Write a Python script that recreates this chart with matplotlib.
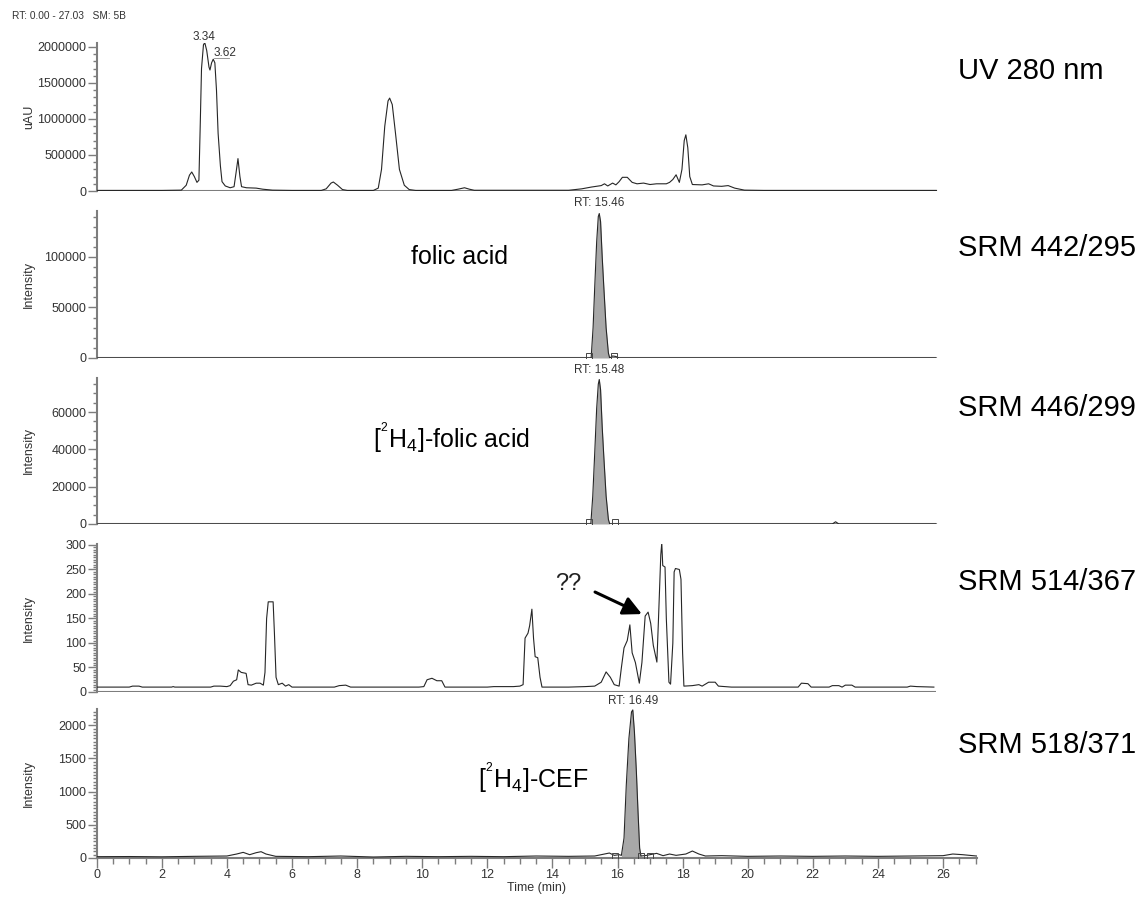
import numpy as np
import matplotlib
matplotlib.use("Agg")
import matplotlib.pyplot as plt
from matplotlib.ticker import MultipleLocator, FuncFormatter

plt.rcParams['font.family'] = ['Liberation Sans', 'DejaVu Sans']
plt.rcParams['mathtext.default'] = 'regular'

# ---- data (time in min, intensity) ----
uv_t = [0, 2.0, 2.6, 2.75, 2.85, 2.92, 3.0, 3.08, 3.14, 3.18, 3.22, 3.28, 3.32, 3.38, 3.45, 3.48,
        3.53, 3.58, 3.63, 3.68, 3.73, 3.8, 3.85, 3.95, 4.1, 4.22, 4.28, 4.34, 4.4, 4.45, 4.6, 4.9,
        5.1, 5.4, 6.0, 6.9, 7.05, 7.2, 7.27, 7.4, 7.55, 7.7, 8.5, 8.65, 8.75, 8.85, 8.95, 9.0,
        9.08, 9.18, 9.3, 9.45, 9.6, 9.8, 10.9, 11.1, 11.3, 11.45, 11.6, 14.5, 14.9, 15.2, 15.5,
        15.6, 15.7, 15.85, 15.95, 16.05, 16.15, 16.3, 16.45, 16.6, 16.8, 17.0, 17.2, 17.5, 17.6,
        17.7, 17.8, 17.9, 17.98, 18.05, 18.1, 18.16, 18.22, 18.3, 18.6, 18.8, 18.95, 19.2, 19.4,
        19.6, 19.9, 20.5, 25.8]
uv_v = [8000, 8000, 12000, 80000, 220000, 264000, 200000, 120000, 150000, 900000, 1700000,
        2030000, 2060000, 1950000, 1720000, 1680000, 1780000, 1830000, 1780000, 1400000, 800000,
        350000, 130000, 70000, 45000, 60000, 250000, 450000, 200000, 60000, 45000, 40000, 25000,
        12000, 8000, 8000, 30000, 110000, 125000, 80000, 20000, 8000, 8000, 40000, 300000, 900000,
        1250000, 1290000, 1200000, 800000, 300000, 80000, 20000, 8000, 8000, 25000, 45000, 25000,
        10000, 10000, 30000, 55000, 75000, 100000, 70000, 110000, 85000, 130000, 190000, 190000,
        120000, 100000, 110000, 90000, 100000, 100000, 120000, 160000, 225000, 120000, 300000,
        700000, 780000, 600000, 200000, 90000, 85000, 100000, 70000, 65000, 75000, 40000, 12000,
        8000, 8000]

fa_t = [0, 15.0, 15.19, 15.25, 15.3, 15.36, 15.41, 15.44, 15.48, 15.53, 15.58, 15.65, 15.72, 15.76,
        15.85, 15.95, 16.05, 25.8]
fa_v = [0, 0, 0, 30000, 70000, 115000, 140000, 143000, 135000, 100000, 70000, 30000, 5000, 0,
        2000, 1500, 0, 0]
fa_window = (15.19, 15.76)
fa_marks = [15.12, 15.9]

d4fa_t = [0, 15.0, 15.18, 15.24, 15.3, 15.36, 15.41, 15.44, 15.48, 15.53, 15.58, 15.65, 15.72,
          15.76, 22.6, 22.7, 22.8, 25.8]
d4fa_v = [0, 0, 0, 15000, 38000, 62000, 75000, 77500, 72000, 52000, 36000, 15000, 2500, 0,
          0, 1200, 0, 0]
d4fa_window = (15.18, 15.76)
d4fa_marks = [15.12, 15.92]

s514_t = [0, 1.0, 1.1, 1.3, 1.4, 2.3, 2.35, 2.4, 3.5, 3.6, 3.8, 4.0, 4.1, 4.2, 4.3, 4.35, 4.44,
          4.59, 4.65, 4.75, 4.9, 5.02, 5.12, 5.17, 5.22, 5.27, 5.42, 5.46, 5.51, 5.58, 5.7, 5.8,
          5.9, 6.0, 7.3, 7.45, 7.65, 7.8, 9.9, 10.05, 10.15, 10.3, 10.45, 10.6, 10.7, 12.0, 12.2,
          12.8, 13.0, 13.1, 13.16, 13.25, 13.3, 13.37, 13.42, 13.47, 13.55, 13.62, 13.68, 14.5,
          15.0, 15.3, 15.5, 15.65, 15.78, 15.9, 16.05, 16.12, 16.2, 16.3, 16.38, 16.45, 16.55,
          16.67, 16.75, 16.85, 16.94, 17.02, 17.1, 17.21, 17.26, 17.33, 17.36, 17.39, 17.46, 17.5,
          17.58, 17.63, 17.7, 17.74, 17.78, 17.9, 17.95, 18.0, 18.04, 18.3, 18.5, 18.6, 18.8,
          19.0, 19.1, 19.5, 21.55, 21.65, 21.85, 21.95, 22.5, 22.6, 22.8, 22.9, 23.0, 23.2, 23.3,
          24.9, 25.0, 25.2, 25.72]
s514_v = [10, 10, 12, 12, 10, 10, 11, 10, 10, 12, 12, 11, 13, 22, 25, 45, 40, 38, 15, 14, 18, 18,
          14, 40, 150, 184, 184, 120, 30, 15, 18, 12, 15, 10, 10, 13, 14, 10, 10, 11, 25, 28, 23,
          23, 10, 10, 11, 11, 12, 15, 110, 120, 135, 169, 110, 72, 70, 30, 10, 10, 11, 12, 20, 41,
          30, 15, 12, 50, 90, 105, 137, 80, 60, 18, 60, 155, 163, 140, 95, 61, 150, 280, 304, 258,
          255, 150, 20, 16, 100, 245, 252, 250, 230, 80, 12, 13, 15, 12, 20, 20, 12, 10, 10, 18,
          17, 10, 10, 13, 13, 10, 14, 14, 10, 10, 12, 11, 10]

cef_t = [0, 1.0, 2.0, 3.0, 4.0, 4.3, 4.5, 4.7, 4.9, 5.05, 5.2, 5.5, 6.5, 7.5, 8.5, 9.5, 10.5, 11.5,
         12.5, 13.5, 14.5, 15.3, 15.6, 15.75, 15.9, 16.05, 16.12, 16.2, 16.27, 16.35, 16.43, 16.47,
         16.52, 16.58, 16.63, 16.68, 16.72, 16.9, 17.2, 17.4, 17.6, 17.8, 18.1, 18.3, 18.5, 18.7,
         19.2, 20.0, 21.0, 22.0, 23.0, 24.0, 25.0, 26.0, 26.3, 26.6, 27.03]
cef_v = [20, 22, 18, 25, 30, 60, 85, 50, 80, 95, 60, 25, 20, 30, 15, 25, 20, 25, 20, 30, 25, 30,
         60, 75, 40, 50, 40, 300, 1100, 1800, 2200, 2230, 1900, 1300, 700, 150, 30, 40, 70, 35,
         60, 40, 60, 105, 60, 30, 35, 25, 30, 25, 30, 25, 30, 35, 60, 50, 30]
cef_window = (16.12, 16.72)
cef_marks = [15.93, 16.72, 17.0]

panel_names = ['UV 280 nm', 'SRM 442/295', 'SRM 446/299', 'SRM 514/367', 'SRM 518/371']
panel_ylabels = ['uAU', 'Intensity', 'Intensity', 'Intensity', 'Intensity']
panel_ymax = [2055000, 145500, 78300, 302, 2244]
panel_major = [500000, 50000, 20000, 50, 500]
panel_minor = [100000, 10000, 5000, 5, 50]

# pixel layout of the original (1140 x 899)
W, H = 1140, 899
x0_px, px_per_min = 96.7, 32.55
t_end = 27.03
panel_px = [(43, 191), (211, 358), (378, 524), (544, 692), (709, 858)]
label_y_px = [71, 248, 408, 582, 745]

line_c = '#262626'
spine_c = '#7d7d7d'
fill_c = '#a8a8a8'

fig = plt.figure(figsize=(W / 100, H / 100), dpi=100)

axes = []
for i, (top, bot) in enumerate(panel_px):
    ax = fig.add_axes([x0_px / W, 1 - bot / H, t_end * px_per_min / W, (bot - top) / H])
    ax.set_xlim(0, t_end)
    ax.set_ylim(0, panel_ymax[i])
    for s in ['top', 'right']:
        ax.spines[s].set_visible(False)
    ax.spines['left'].set_color(spine_c)
    ax.spines['left'].set_linewidth(1.5)
    ax.spines['bottom'].set_color(spine_c)
    ax.spines['bottom'].set_linewidth(1.5)
    ax.yaxis.set_major_locator(MultipleLocator(panel_major[i]))
    ax.yaxis.set_minor_locator(MultipleLocator(panel_minor[i]))
    ax.yaxis.set_major_formatter(FuncFormatter(lambda v, p: f'{int(round(v))}'))
    ax.tick_params(axis='y', which='major', length=6.5, width=1.0, color=spine_c,
                   labelsize=9, labelcolor='#333333', pad=1)
    ax.tick_params(axis='y', which='minor', length=3.2, width=1.0, color=spine_c)
    ax.set_ylabel(panel_ylabels[i], fontsize=9, color='#333333')
    ax.yaxis.set_label_coords(-0.070, 0.5)
    if i < 4:
        ax.spines['bottom'].set_visible(False)
        ax.set_xticks([])
        ax.hlines(0, 0, 25.8, color=spine_c, lw=1.5, zorder=1)
    else:
        ax.xaxis.set_major_locator(MultipleLocator(2))
        ax.xaxis.set_minor_locator(MultipleLocator(0.5))
        ax.tick_params(axis='x', which='major', length=7, width=1.0, color=spine_c,
                       labelsize=9, labelcolor='#333333', pad=1)
        ax.tick_params(axis='x', which='minor', length=4.3, width=1.0, color=spine_c)
        ax.set_xlabel('Time (min)', fontsize=9, color='#333333', labelpad=1)
    fig.text(958 / W, 1 - label_y_px[i] / H, panel_names[i], fontsize=21, va='center',
             ha='left', color='black')
    axes.append(ax)

# UV trace
ax = axes[0]
ax.plot(uv_t, uv_v, color=line_c, lw=0.8, zorder=3)
ax.text(3.30, panel_ymax[0], '3.34', fontsize=8.5, ha='center', va='bottom', color='#333333',
        clip_on=False)
ax.text(3.95, 1.92e6, '3.62', fontsize=8.5, ha='center', va='center', color='#333333')
ax.plot([3.6, 4.05], [1.85e6, 1.85e6], color='#888888', lw=0.6)


def filled_peak(ax, t, v, window, marks, rt_label, ymax):
    t = np.asarray(t)
    v = np.asarray(v)
    m = (t >= window[0]) & (t <= window[1])
    ax.fill_between(t[m], 0, v[m], color=fill_c, zorder=2, lw=0)
    ax.plot(t, v, color=line_c, lw=0.8, zorder=3)
    ax.plot(marks, [ymax * 0.012] * len(marks), ls='none', marker='s', ms=4.5, mfc='none',
            mec='#444444', mew=0.7, zorder=4)
    peak_t = t[np.argmax(v)]
    ax.annotate(rt_label, xy=(peak_t, ymax), xytext=(0, 1.5), textcoords='offset points',
                ha='center', va='bottom', fontsize=8.5, color='#333333', annotation_clip=False)


sup_label = '[$^{{}^{2}}$H$_{4}$]-'

filled_peak(axes[1], fa_t, fa_v, fa_window, fa_marks, 'RT: 15.46', panel_ymax[1])
axes[1].text(11.16, 100000, 'folic acid', fontsize=18, ha='center', va='center')

filled_peak(axes[2], d4fa_t, d4fa_v, d4fa_window, d4fa_marks, 'RT: 15.48', panel_ymax[2])
axes[2].text(10.9, 46500, sup_label + 'folic acid', fontsize=18, ha='center', va='center')

ax = axes[3]
ax.plot(s514_t, s514_v, color=line_c, lw=0.8, zorder=3)
ax.text(14.48, 220, '??', fontsize=17, ha='center', va='center', color='#222222')
ax.annotate('', xy=(16.75, 159), xytext=(15.31, 204),
            arrowprops=dict(arrowstyle='-|>', mutation_scale=28, lw=2.2, color='black',
                            shrinkA=0, shrinkB=0))

filled_peak(axes[4], cef_t, cef_v, cef_window, cef_marks, 'RT: 16.49', panel_ymax[4])
axes[4].text(13.4, 1205, sup_label + 'CEF', fontsize=18, ha='center', va='center')

fig.text(12 / W, 1 - 16 / H, 'RT: 0.00 - 27.03   SM: 5B', fontsize=7.3, va='center',
         color='#333333')

fig.savefig('out.png', dpi=100, facecolor='white')
